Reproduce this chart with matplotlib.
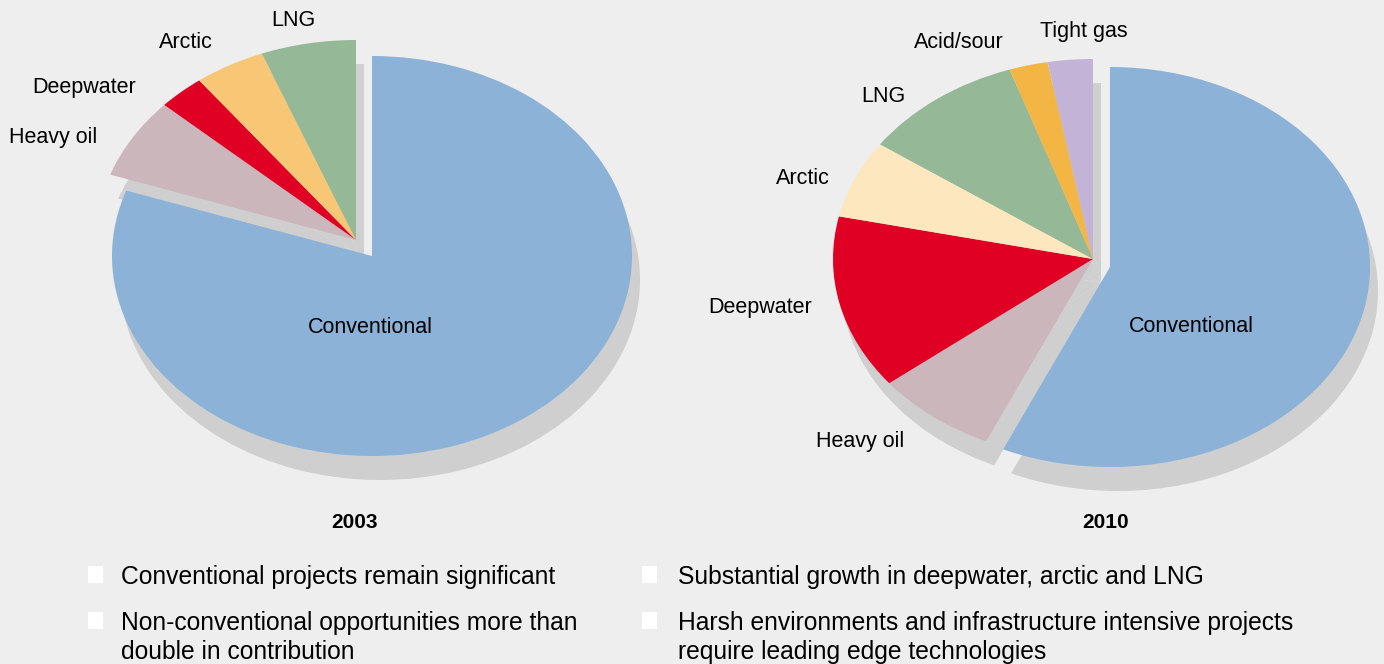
import matplotlib.pyplot as plt

W, H = 1384, 664

labels_2003 = ["Conventional", "Heavy oil", "Deepwater", "Arctic", "LNG"]
share_2003 = [80.3, 6.5, 2.9, 4.4, 5.9]
colors_2003 = ["#8cb2d8", "#cbb6bb", "#e00024", "#f8c775", "#95b897"]

labels_2010 = ["Conventional", "Heavy oil", "Deepwater", "Arctic", "LNG",
               "Acid/sour", "Tight gas"]
share_2010 = [56.8, 7.6, 14.1, 6.3, 10.1, 2.4, 2.8]
colors_2010 = ["#8cb2d8", "#cbb6bb", "#e00024", "#fde7bf", "#95b897",
               "#f3b644", "#c3b3d6"]

notes_left = ["Conventional projects remain significant",
              "Non-conventional opportunities more than\ndouble in contribution"]
notes_right = ["Substantial growth in deepwater, arctic and LNG",
               "Harsh environments and infrastructure intensive projects\nrequire leading edge technologies"]

BG = "#eeeeee"
SHADOW = "#cfcfcf"
RX, RY = 260, 200      # pixel radii of the squashed pie
SPAN = 1.3             # axes half-extent in radius units
SHADOW_OFF = (8, 24)   # shadow offset in pixels (right, down)

plt.rcParams['font.family'] = ['Liberation Sans', 'DejaVu Sans']
fig = plt.figure(figsize=(W / 100, H / 100), dpi=100)
fig.patch.set_facecolor(BG)


def px(x, y):
    return x / W, 1 - y / H


def draw_pie(cx, cy, values, colors, pull):
    # axes sized so a unit circle becomes an RX x RY ellipse in pixels
    w, h = 2 * SPAN * RX, 2 * SPAN * RY
    ax = fig.add_axes([(cx - w / 2) / W, (H - cy - h / 2) / H, w / W, h / H])
    sx, sy = SHADOW_OFF[0] / RX, -SHADOW_OFF[1] / RY
    shadow, _ = ax.pie(values, colors=[SHADOW] * len(values), startangle=90,
                       counterclock=False, center=(sx, sy),
                       wedgeprops=dict(linewidth=0))
    wedges, _ = ax.pie(values, colors=colors, startangle=90,
                       counterclock=False, wedgeprops=dict(linewidth=0))
    # pull the conventional slice out (pixels right, down)
    dx, dy = pull[0] / RX, -pull[1] / RY
    shadow[0].set_center((sx + dx, sy + dy))
    wedges[0].set_center((dx, dy))
    ax.set_aspect('auto')
    ax.set_xlim(-SPAN, SPAN)
    ax.set_ylim(-SPAN, SPAN)
    ax.axis('off')
    return ax


draw_pie(356, 240, share_2003, colors_2003, (16, 16))
draw_pie(1093, 259, share_2010, colors_2010, (17, 8))

lab_fs = 15.5
pos_2003 = [(370, 328), (53, 137), (84, 87), (186, 43), (293, 20)]
pos_2010 = [(1191, 327), (860, 441), (760, 307), (803, 178), (883, 96),
            (959, 42), (1084, 32)]
for name, (x, y) in zip(labels_2003, pos_2003):
    fig.text(*px(x, y), name, fontsize=lab_fs, ha='center', va='center')
for name, (x, y) in zip(labels_2010, pos_2010):
    fig.text(*px(x, y), name, fontsize=lab_fs, ha='center', va='center')

fig.text(*px(355, 523), "2003", fontsize=15, fontweight='bold',
         ha='center', va='center')
fig.text(*px(1106, 523), "2010", fontsize=15, fontweight='bold',
         ha='center', va='center')

# bullet notes
note_fs = 17.7
for col_x, box_x, notes in [(121, 88, notes_left), (678, 642, notes_right)]:
    for i, note in enumerate(notes):
        top = 565 + i * 46
        fig.text(*px(col_x, top), note, fontsize=note_fs, ha='left', va='top',
                 linespacing=1.24)
        fig.patches.append(plt.Rectangle(px(box_x, top + 18), 15 / W, 17 / H,
                                         transform=fig.transFigure,
                                         facecolor='white', edgecolor='none'))

fig.savefig("out.png", dpi=100, facecolor=BG)
